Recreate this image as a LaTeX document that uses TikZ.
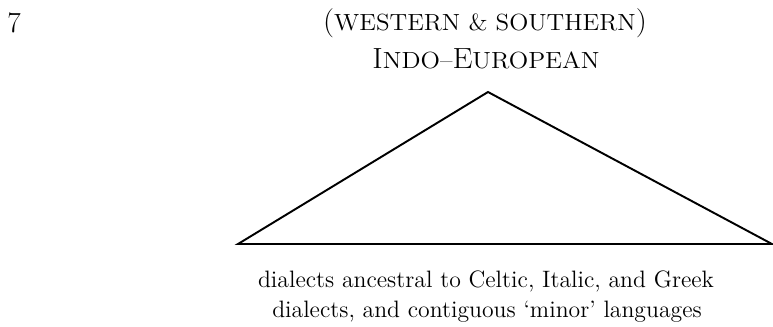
\documentclass[tikz,border=0pt]{standalone}
\usepackage{graphicx}
% capitals in two sizes, to get the tall small caps
\newcommand{\capbig}[1]{{\fontsize{16.6}{18}\selectfont #1}}
\newcommand{\capsmall}[1]{{\fontsize{13.3}{16}\selectfont #1}}
\begin{document}
\begin{tikzpicture}[x=0.02cm, y=0.02cm]
    \tikzset{lbl/.style={inner sep=0pt, anchor=base, font=\fontsize{13.5}{16}\selectfont}}
    \useasboundingbox (0, 0) rectangle (773, 326);
    \node[lbl] (num) at (14, 294) {\capbig{7}};
    \node[lbl] (top1) at (485, 296) {\scalebox{1.07}[1]{\capbig{(}\capsmall{WESTERN \& SOUTHERN}\capbig{)}}};
    \node[lbl] (top2) at (486, 258) {\scalebox{1.09}[1]{\capbig{I}\capsmall{NDO--}\capbig{E}\capsmall{UROPEAN}}};
    % the triangle
    \coordinate (apex) at (488, 234);
    \coordinate (bl) at (238, 82);
    \coordinate (br) at (772, 82);
    \draw[line width=1.1pt, line join=miter] (apex) -- (br) -- (bl) -- cycle;
    \node[lbl] (bot1) at (486, 39) {dialects ancestral to Celtic, Italic, and Greek};
    \node[lbl] (bot2) at (487, 9) {dialects, and contiguous `minor' languages};
\end{tikzpicture}
\end{document}
